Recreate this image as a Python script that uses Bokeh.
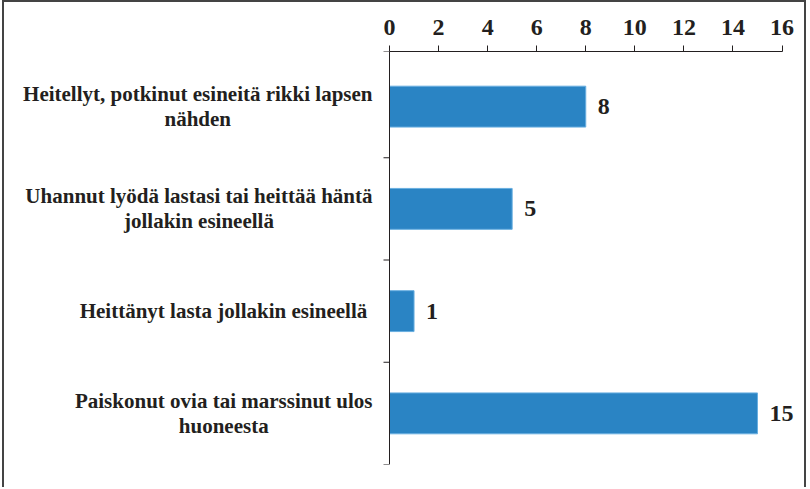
import math
from bokeh.plotting import figure
from bokeh.models import Range1d, FixedTicker, ColumnDataSource, LabelSet
from bokeh.core.properties import value
from bokeh.embed import file_html
from bokeh.resources import INLINE

# ---------------- data ----------------
categories = [
    "Heitellyt, potkinut esineitä rikki lapsen\nnähden",
    "Uhannut lyödä lastasi tai heittää häntä\njollakin esineellä",
    "Heittänyt lasta jollakin esineellä ",
    "Paiskonut ovia tai marssinut ulos\nhuoneesta",
]
values = [8, 5, 1, 15]
x_ticks = [0, 2, 4, 6, 8, 10, 12, 14, 16]
x_max = 16

# ---------------- style / layout ----------------
FONT = "Liberation Serif"
INK = "#231f20"
BAR = "#2a84c4"
CAT_SIZE = 21
W, H = 804, 487          # canvas size
X0_PX = 385              # canvas px of value 0
X16_PX = 777.5           # canvas px of value 16
TOP_PX, BOT_PX = 49, 462 # frame top / bottom (canvas px)
TOP_PAD_PX = 4           # gap between top axis line and first category band
LABEL_RIGHT_PX = 368     # right edge of category text block
LINE_GAP = 25            # px between text lines

ppu = (X16_PX - X0_PX) / x_max
x_start = -X0_PX / ppu
x_end = (W - X0_PX) / ppu

n = len(categories)
band_px = (BOT_PX - TOP_PX - TOP_PAD_PX) / n
y_pad = TOP_PAD_PX / band_px

# Times/Liberation Serif Bold advance widths (1/1000 em) for centering lines
AFM = {"a": 500, "b": 556, "c": 444, "d": 556, "e": 444, "f": 333, "g": 500, "h": 556,
       "i": 278, "j": 333, "k": 556, "l": 278, "m": 833, "n": 556, "o": 500, "p": 556,
       "q": 556, "r": 444, "s": 389, "t": 333, "u": 556, "v": 500, "w": 722, "x": 500,
       "y": 500, "z": 444, ",": 250, " ": 250, "H": 778, "U": 722, "P": 611,
       "ä": 500, "ö": 500}

def text_w(s):
    return sum(AFM.get(ch, 500) for ch in s) * CAT_SIZE / 1000.0

centers = [i + 0.5 for i in range(n)]

# category text rows (one row per line, centred under the longest line)
tx, ty, tt, toff = [], [], [], []
for c, lab in zip(centers, categories):
    lines = lab.split("\n")
    wmax = max(text_w(l) for l in lines)
    cx_px = LABEL_RIGHT_PX - wmax / 2.0
    for k, line in enumerate(lines):
        tx.append((cx_px - X0_PX) / ppu)
        ty.append(c)
        tt.append(line.rstrip() if k < len(lines) - 1 else line)
        toff.append((k - (len(lines) - 1) / 2.0) * LINE_GAP)

p = figure(width=W, height=H, output_backend="svg", toolbar_location=None,
           x_range=Range1d(x_start, x_end), y_range=Range1d(n, -y_pad),
           x_axis_location="above", y_axis_location=None,
           min_border_left=0, min_border_right=0,
           min_border_top=TOP_PX, min_border_bottom=H - BOT_PX)
p.styles = {"margin-left": "2px",
            "border-left": "2px solid #444",
            "border-top": "2px solid #444",
            "border-right": "2px solid #444"}
p.outline_line_color = None
p.grid.visible = False
p.background_fill_color = "white"
p.border_fill_color = "white"

src = ColumnDataSource(dict(y=centers, v=values, lab=[str(v) for v in values]))
p.hbar(y="y", right="v", left=0, height=0.4, source=src,
       fill_color=BAR, line_color="#68aee0", line_width=1)

# y axis line and category boundary ticks
bounds = [-y_pad] + list(range(1, n + 1))
p.segment(x0=[0], y0=[-y_pad], x1=[0], y1=[n], line_color=INK, line_width=1)
p.ray(x=[0] * len(bounds), y=bounds, length=6, length_units="screen",
      angle=math.pi, line_color=INK, line_width=1)

# category labels
tsrc = ColumnDataSource(dict(x=tx, y=ty, t=tt, off=toff))
p.text(x="x", y="y", text="t", y_offset="off", source=tsrc,
       text_font=value(FONT), text_font_style="bold",
       text_font_size=f"{CAT_SIZE}px", text_color=INK,
       text_align="center", text_baseline="middle")

# top x axis
xa = p.xaxis[0]
xa.ticker = FixedTicker(ticks=x_ticks)
xa.bounds = (0, x_max)
xa.major_tick_in = 0
xa.major_tick_out = 6
xa.minor_tick_line_color = None
xa.axis_line_color = INK
xa.major_tick_line_color = INK
xa.major_label_text_font = FONT
xa.major_label_text_font_style = "bold"
xa.major_label_text_font_size = "24px"
xa.major_label_text_color = INK
xa.major_label_standoff = 11

# value labels
labels = LabelSet(x="v", y="y", text="lab", source=src, x_offset=12,
                  text_font=value(FONT), text_font_style="bold", text_font_size="24px",
                  text_color=INK, text_baseline="middle", text_align="left")
p.add_layout(labels)

open("out.html", "w").write(file_html(p, INLINE))
